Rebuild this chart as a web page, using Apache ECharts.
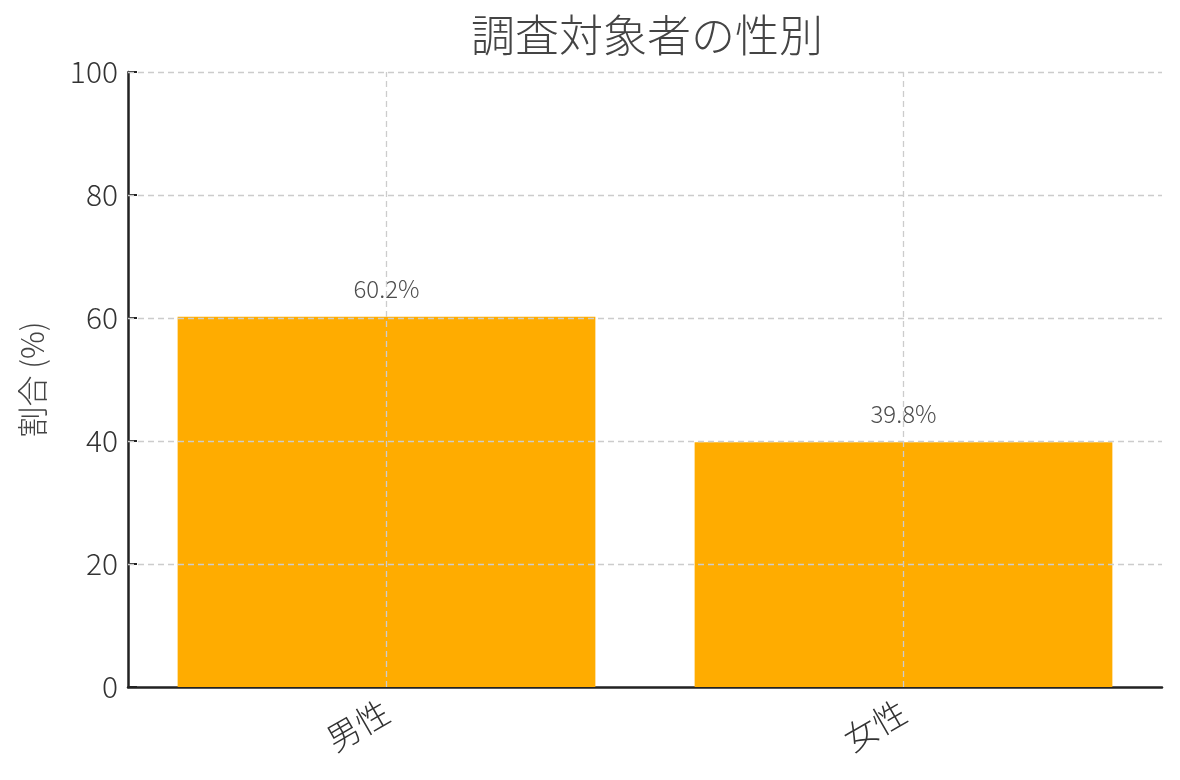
<!DOCTYPE html>
<html>
<head>
<meta charset="utf-8">
<title>調査対象者の性別</title>
<script src="https://cdn.jsdelivr.net/npm/echarts@6/dist/echarts.min.js"></script>
<style>
  html, body { margin: 0; padding: 0; background: #fff; }
  #chart { width: 1180px; height: 780px; }
</style>
</head>
<body>
<div id="chart"></div>
<script>
var categories = ['男性', '女性'];
var shares = [60.2, 39.8];
var yTicks = [0, 20, 40, 60, 80, 100];

var FONT = '"Noto Sans CJK JP", "Noto Sans", sans-serif';
var gridColor = '#cccccc';

// grid lines sit above the bars, so draw them as mark lines
var hLines = yTicks.slice(1).map(function (v) { return { yAxis: v }; });
var vLines = categories.map(function (c) { return { xAxis: c }; });

var myChart = echarts.init(document.getElementById('chart'));
var option = {
    backgroundColor: '#fff',
    animation: false,
    title: {
        text: '調査対象者の性別',
        left: 642,
        textAlign: 'center',
        top: 8,
        textStyle: { fontFamily: FONT, fontSize: 44, fontWeight: 300, color: '#444' }
    },
    grid: { left: 128, right: 18, top: 72, bottom: 93 },
    xAxis: {
        type: 'category',
        data: categories,
        axisLine: { lineStyle: { color: '#222', width: 2.5 } },
        axisTick: { show: true, inside: true, alignWithLabel: true, length: 9, lineStyle: { color: '#222', width: 2 } },
        axisLabel: { rotate: 30, margin: 22, fontFamily: FONT, fontSize: 33, fontWeight: 300, color: '#333' },
        splitLine: { show: false }
    },
    yAxis: {
        type: 'value',
        min: 0,
        max: 100,
        interval: 20,
        name: '割合 (%)',
        nameLocation: 'middle',
        nameGap: 80,
        nameTextStyle: { fontFamily: FONT, fontSize: 31, fontWeight: 300, color: '#444' },
        axisLine: { show: true, lineStyle: { color: '#222', width: 2.5 } },
        axisTick: { show: true, inside: true, length: 9, lineStyle: { color: '#222', width: 2 } },
        axisLabel: { margin: 10, fontFamily: FONT, fontSize: 30, fontWeight: 300, color: '#333' },
        splitLine: { show: false }
    },
    series: [{
        type: 'bar',
        data: shares,
        barWidth: '80.8%',
        itemStyle: { color: '#ffac00' },
        label: {
            show: true,
            position: 'top',
            distance: 16,
            formatter: function (p) { return p.value.toFixed(1) + '%'; },
            fontFamily: FONT,
            fontSize: 24,
            fontWeight: 300,
            color: '#4d4d4d'
        },
        markLine: {
            silent: true,
            symbol: 'none',
            label: { show: false },
            lineStyle: { color: gridColor, type: [6, 4], width: 1.3 },
            data: hLines.concat(vLines)
        }
    }]
};
myChart.setOption(option);
</script>
</body>
</html>
